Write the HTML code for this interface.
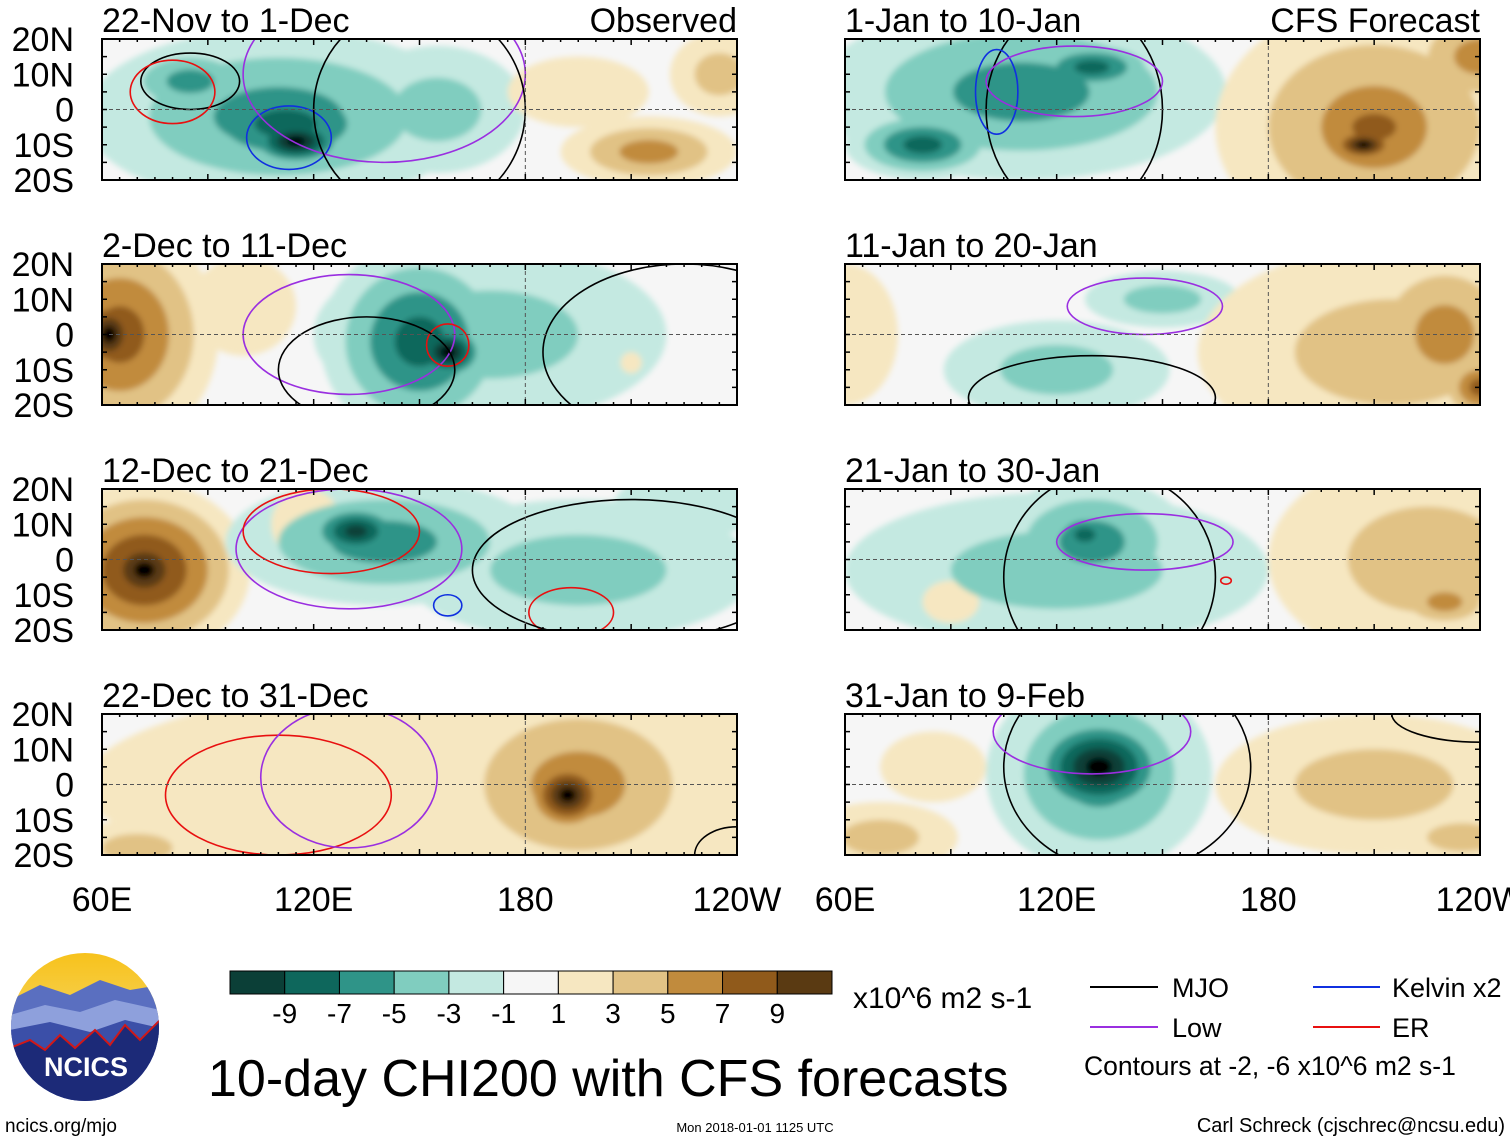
<!DOCTYPE html>
<html><head><meta charset="utf-8"><style>
html,body{margin:0;padding:0;background:#fff;}
svg{display:block;font-family:"Liberation Sans",sans-serif;}
</style></head><body>
<svg id="fig" width="1510" height="1142" viewBox="0 0 1510 1142" xmlns="http://www.w3.org/2000/svg">
<defs>
<filter id="soft" x="-10%" y="-10%" width="120%" height="120%"><feGaussianBlur stdDeviation="3"/></filter>
<linearGradient id="sky" x1="0" y1="0" x2="0" y2="1"><stop offset="0" stop-color="#f7c21b"/><stop offset="1" stop-color="#f5e39a"/></linearGradient>
</defs>
<g id="panels"></g>
<g id="static"></g>
</svg>
<script>
const NS="http://www.w3.org/2000/svg";
// ---- data ----
const panelTitles=["22-Nov to 1-Dec","2-Dec to 11-Dec","12-Dec to 21-Dec","22-Dec to 31-Dec","1-Jan to 10-Jan","11-Jan to 20-Jan","21-Jan to 30-Jan","31-Jan to 9-Feb"];
const latTicks=["20N","10N","0","10S","20S"];
const latValues=[20,10,0,-10,-20];
const lonTicks=["60E","120E","180","120W"];
const lonValues=[60,120,180,240];
const cbarLevels=[-9,-7,-5,-3,-1,1,3,5,7,9];
const cbarColors=["#0b3f37","#0e675c","#2f9488","#80cdbf","#c4e9e1","#f6f6f6","#f6e7c1","#e1c285","#c18b3d","#905a1b","#5a3a12"];
// blobs: [lon, lat, rxDeg, ryDeg, signedLevels]
const anomalies=[
 [[110,-2,55,25,-3],[112,-4,35,16,-4],[115,-9,16,8,-6],[155,0,25,18,-2],[215,-12,25,10,3],[235,10,14,12,2],[195,5,20,10,1],[85,8,20,10,-3]],
 [[65,0,28,32,4],[62,0,12,14,6],[100,8,15,14,1],[170,0,50,25,-2],[150,-2,28,28,-4],[158,-5,12,9,-6],[210,-8,3,3,1]],
 [[72,-3,30,25,5],[72,-3,10,8,7],[140,5,45,18,-3],[132,8,16,9,-5],[195,-3,50,20,-2],[225,15,20,10,-1],[118,10,10,10,1]],
 [[175,0,120,30,1],[195,0,40,28,3],[192,-3,14,12,6],[70,-18,20,8,2],[235,-12,12,10,1]],
 [[110,5,58,25,-3],[82,-10,22,10,-4],[130,12,20,8,-4],[210,-5,45,35,3],[210,-5,25,15,4],[207,-10,12,6,6],[240,15,22,15,3]],
 [[150,10,22,8,-2],[120,-10,32,14,-2],[215,-5,55,30,2],[230,0,25,25,3],[60,0,15,20,1],[240,-15,12,10,4]],
 [[120,-3,60,22,-2],[130,5,28,18,-3],[128,7,12,8,-4],[225,0,45,30,2],[230,-12,15,8,3],[90,-12,8,6,1]],
 [[132,3,32,28,-3],[132,5,22,16,-6],[70,-15,22,10,2],[210,0,45,20,2],[235,-15,20,8,2],[85,5,15,10,1]]
];
// contour lines: [kind, lon, lat, rxDeg, ryDeg]  kind: mjo, low, kelvin, er
const contours=[
 [["mjo",85,8,14,8],["er",80,5,12,9],["kelvin",113,-8,12,9],["low",140,10,40,25],["mjo",150,0,30,30]],
 [["mjo",225,-5,40,25],["low",130,0,30,17],["er",158,-3,6,6],["mjo",135,-10,25,15]],
 [["low",130,3,32,17],["er",125,8,25,12],["kelvin",158,-13,4,3],["er",193,-15,12,7],["mjo",210,-3,45,20]],
 [["er",110,-3,32,17],["low",130,2,25,20],["mjo",240,-20,12,8]],
 [["mjo",125,0,25,30],["kelvin",103,5,6,12],["low",125,8,25,10]],
 [["low",145,8,22,8],["mjo",130,-18,35,12]],
 [["mjo",135,-5,30,30],["low",145,5,25,8],["er",168,-6,1.5,1]],
 [["mjo",140,5,35,30],["low",130,15,28,12],["mjo",240,20,25,8]]
];
const lineColors={mjo:"#000",low:"#9a2fe0",kelvin:"#1030e0",er:"#e81010"};
// ---- layout ----
const colX=[102,845], rowY=[39,264,489,714], PW=635, PH=141;
const fig=document.getElementById('panels');
function mk(tag,attrs,parent){const e=document.createElementNS(NS,tag);for(const k in attrs)e.setAttribute(k,attrs[k]);(parent||fig).appendChild(e);return e;}
function colorFor(lv){return cbarColors[5+lv];}
panelTitles.forEach((t,i)=>{
  const x0=colX[Math.floor(i/4)], y0=rowY[i%4];
  const xs=lon=>x0+(lon-60)*PW/180;
  const ys=lat=>y0+(20-lat)*PH/40;
  const g=mk('g',{});
  
  
  const cid='clip'+i;
  const cp=mk('clipPath',{id:cid},g);mk('rect',{x:x0,y:y0,width:PW,height:PH},cp);
  const fill=mk('g',{'clip-path':'url(#'+cid+')'},g);
  mk('rect',{x:x0,y:y0,width:PW,height:PH,fill:colorFor(0)},fill);
  const blobs=anomalies[i];
  const inner=mk('g',{filter:'url(#soft)'},fill);
  const maxL=Math.max(...blobs.map(b=>Math.abs(b[4])));
  for(let L=1;L<=maxL;L++){
    blobs.forEach(b=>{
      const k=Math.abs(b[4]); if(L>k)return;
      const f=1-(L-1)/k;
      const e=mk('ellipse',{cx:xs(b[0]),cy:ys(b[1]),rx:b[2]*f*PW/180,ry:b[3]*f*PH/40,fill:colorFor(Math.sign(b[4])*L)},inner);
      
      
    });
  }
  contours[i].forEach(c=>{
    const e=mk('ellipse',{cx:xs(c[1]),cy:ys(c[2]),rx:c[3]*PW/180,ry:c[4]*PH/40,fill:'none',stroke:lineColors[c[0]],'stroke-width':1.6},fill);
    
    
  });
  mk('line',{x1:x0,x2:x0+PW,y1:ys(0),y2:ys(0),stroke:'#555','stroke-dasharray':'4,3','stroke-width':1},g);
  mk('line',{x1:xs(180),x2:xs(180),y1:y0,y2:y0+PH,stroke:'#555','stroke-dasharray':'4,3','stroke-width':1},g);
  mk('rect',{x:x0,y:y0,width:PW,height:PH,fill:'none',stroke:'#000','stroke-width':2},g);
  for(let lon=60;lon<=240;lon+=5){const tl=lon%30===0?6:3;mk('line',{x1:xs(lon),x2:xs(lon),y1:y0,y2:y0+tl,stroke:'#000','stroke-width':1.5},g);mk('line',{x1:xs(lon),x2:xs(lon),y1:y0+PH,y2:y0+PH-tl,stroke:'#000','stroke-width':1.5},g);}
  for(let lat=-20;lat<=20;lat+=5){mk('line',{x1:x0,x2:x0+5,y1:ys(lat),y2:ys(lat),stroke:'#000','stroke-width':1.5},g);mk('line',{x1:x0+PW,x2:x0+PW-5,y1:ys(lat),y2:ys(lat),stroke:'#000','stroke-width':1.5},g);}
  const tt=mk('text',{x:x0,y:y0-7,'font-size':34},g);tt.textContent=t;
  
  
  if(i===0||i===4){const s=mk('text',{x:x0+PW,y:y0-7,'font-size':34,'text-anchor':'end'},g);s.textContent=i===0?"Observed":"CFS Forecast";
    
    }
  if(i<4){latTicks.forEach((lt,j)=>{const e=mk('text',{x:74,y:ys(latValues[j])+12,'font-size':34,'text-anchor':'end'},g);e.textContent=lt;
    
    });}
  if(i%4===3){lonTicks.forEach((lt,j)=>{const e=mk('text',{x:xs(lonValues[j]),y:911,'font-size':34,'text-anchor':'middle'},g);e.textContent=lt;
    
    });}
});
// ---- colorbar ----
const cb=mk('g',{});


const cbX=230,cbW=602,cbY=971,cbH=23,bw=cbW/cbarColors.length;
cbarColors.forEach((c,i)=>{mk('rect',{x:cbX+i*bw,y:cbY,width:bw,height:cbH,fill:c,stroke:'#000','stroke-width':1},cb);});
cbarLevels.forEach((v,i)=>{const e=mk('text',{x:cbX+(i+1)*bw,y:1023,'font-size':28,'text-anchor':'middle'},cb);e.textContent=v;
  
  });
const st=document.getElementById('static');
st.innerHTML=`
<text x="853" y="1008" font-size="30">x10^6 m2 s-1</text>
<g>
<line x1="1090" y1="987" x2="1158" y2="987" stroke="#000" stroke-width="2"/><text x="1172" y="997" font-size="27">MJO</text>
<line x1="1313" y1="987" x2="1380" y2="987" stroke="#1030e0" stroke-width="2"/><text x="1392" y="997" font-size="27">Kelvin x2</text>
<line x1="1090" y1="1027" x2="1158" y2="1027" stroke="#9a2fe0" stroke-width="2"/><text x="1172" y="1037" font-size="27">Low</text>
<line x1="1313" y1="1027" x2="1380" y2="1027" stroke="#e81010" stroke-width="2"/><text x="1392" y="1037" font-size="27">ER</text>
<text x="1084" y="1075" font-size="26.5">Contours at -2, -6 x10^6 m2 s-1</text>
</g>
<text x="208" y="1096" font-size="52">10-day CHI200 with CFS forecasts</text>
<g>
<clipPath id="lc"><circle cx="85" cy="1027" r="74"/></clipPath>
<g clip-path="url(#lc)">
<rect x="10" y="952" width="150" height="150" fill="url(#sky)"/>
<path d="M10 1000 L40 985 L70 995 L100 980 L130 990 L160 985 L160 1102 L10 1102Z" fill="#5a6fc0"/>
<path d="M10 1015 L45 1005 L80 1012 L115 1000 L160 1010 L160 1102 L10 1102Z" fill="#8ea0dc"/>
<path d="M10 1030 L50 1022 L90 1032 L125 1020 L160 1028 L160 1102 L10 1102Z" fill="#3b4fa8"/>
<path d="M10 1048 L30 1040 L45 1050 L60 1035 L75 1048 L95 1030 L110 1045 L125 1025 L140 1040 L160 1020 L160 1102 L10 1102Z" fill="#1c2a78" stroke="#d01818" stroke-width="2"/>
</g>
<text x="86" y="1076" font-size="27" font-weight="bold" fill="#fff" text-anchor="middle">NCICS</text>
</g>
<text x="5" y="1132" font-size="19">ncics.org/mjo</text>
<text x="755" y="1132" font-size="13" text-anchor="middle">Mon 2018-01-01 1125 UTC</text>
<text x="1505" y="1132" font-size="20" text-anchor="end">Carl Schreck (cjschrec@ncsu.edu)</text>`;
</script>
</body></html>
